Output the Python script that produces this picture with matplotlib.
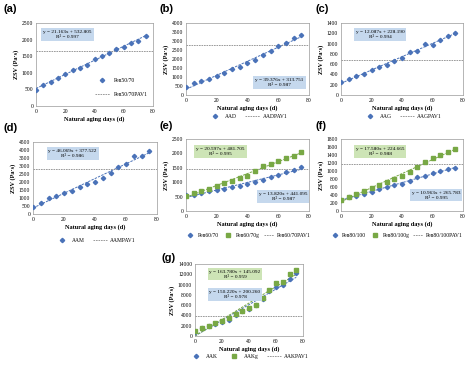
import numpy as np
import matplotlib.pyplot as plt

days = [0, 5, 10, 15, 20, 25, 30, 35, 40, 45, 50, 55, 60, 65, 70, 75]

pen5070 = [490, 640, 720, 850, 960, 1090, 1150, 1250, 1420, 1520, 1600, 1720, 1790, 1910, 1970, 2100]
pen5070_pav = 1660
aad = [430, 680, 770, 870, 1050, 1200, 1420, 1550, 1780, 1920, 2200, 2450, 2720, 2900, 3150, 3350]
aad_pav = 2780
aag = [250, 310, 360, 400, 480, 550, 580, 670, 720, 840, 860, 990, 980, 1060, 1140, 1210]
aag_pav = 690
aam = [450, 700, 980, 1100, 1330, 1450, 1700, 1850, 2000, 2230, 2550, 2950, 3130, 3600, 3650, 3950]
aam_pav = 2800
pen6070 = [540, 560, 620, 680, 720, 760, 820, 880, 950, 1020, 1080, 1180, 1260, 1340, 1420, 1520]
pen6070g = [520, 640, 690, 780, 880, 960, 1040, 1130, 1230, 1380, 1560, 1640, 1720, 1840, 1920, 2050]
pen6070_pav = 1470
pen80100 = [280, 340, 380, 430, 480, 540, 600, 650, 680, 740, 840, 880, 940, 990, 1040, 1080]
pen80100g = [280, 360, 420, 510, 570, 640, 720, 790, 880, 970, 1110, 1220, 1330, 1410, 1480, 1550]
pen80100_pav = 1170
aak = [700, 1600, 2000, 2300, 2800, 3200, 4000, 4800, 5300, 6000, 7200, 8800, 9600, 10000, 11000, 12200]
aakg = [1000, 1600, 2000, 2500, 3000, 3500, 4200, 4900, 5400, 6100, 7300, 8900, 10300, 10500, 12000, 12900]
aak_pav = 3800

BLUE = "#4a72b8"
GREEN = "#78a845"
BLUE_BOX = "#c5d8ed"
GREEN_BOX = "#cde4b6"
SERIF = "Liberation Serif"

W, H = 474, 380
fig = plt.figure(figsize=(W / 100, H / 100), dpi=100)


def make_ax(x0, y0, x1, y1, ymax, ystep, label, lx, ly):
    ax = fig.add_axes([x0 / W, 1 - y1 / H, (x1 - x0) / W, (y1 - y0) / H])
    ax.set_xlim(0, 80)
    ax.set_ylim(0, ymax)
    ax.set_xticks(range(0, 81, 20))
    ax.set_yticks(range(0, ymax + 1, ystep))
    ax.tick_params(labelsize=4, length=0, pad=2)
    for t in ax.get_xticklabels() + ax.get_yticklabels():
        t.set_family(SERIF)
    for s in ax.spines.values():
        s.set_color("#999999")
        s.set_linewidth(0.5)
    ax.set_xlabel("Natural aging days (d)", fontsize=4.5, family=SERIF,
                  fontweight="bold", labelpad=2)
    ax.set_ylabel("ZSV (Pa\u00b7s)", fontsize=4.5, family=SERIF,
                  fontweight="bold", labelpad=2)
    fig.text(lx / W, 1 - ly / H, label, fontsize=8, fontweight="bold",
             family="Liberation Sans", va="center", ha="left")
    return ax


def series(ax, y, color, name, marker="D"):
    x = np.array(days)
    ax.plot(x, y, linestyle="none", marker=marker, ms=2.2, color=color,
            label=name, zorder=3)
    k, b = np.polyfit(x, y, 1)
    ax.plot([0, 75], [b, b + 75 * k], color=color, lw=0.7,
            linestyle=(0, (2.5, 1.2)), zorder=2)


def pav(ax, level, name):
    ax.axhline(level, color="#8c8c8c", lw=0.6, linestyle=(0, (2, 1)), label=name)


def eq(ax, x, y, text, color):
    ax.text(x, y, text, transform=ax.transAxes, fontsize=3.8, family=SERIF,
            ha="center", va="center", linespacing=1.3,
            bbox=dict(boxstyle="square,pad=0.35", fc=color, ec="none"), zorder=4)


def bottom_legend(ax, yoff, spacing=1.5, hl=2.6, xc=0.5):
    leg = ax.legend(loc="upper center", bbox_to_anchor=(xc, yoff), ncol=3,
                    frameon=False, prop={"family": SERIF, "size": 4},
                    handlelength=hl, columnspacing=spacing, handletextpad=0.5,
                    borderaxespad=0, borderpad=0)
    return leg


# (a)
ax = make_ax(36, 23, 153, 106, 2500, 500, "(a)", 3, 9)
series(ax, pen5070, BLUE, "Pen50/70")
pav(ax, pen5070_pav, "Pen50/70PAV1")
eq(ax, 0.27, 0.86, "y = 21.163x + 532.805\nR\u00b2 = 0.997", BLUE_BOX)
ax.legend(loc="lower right", bbox_to_anchor=(1.0, 0.05), frameon=False,
          prop={"family": SERIF, "size": 4}, handlelength=2.6, labelspacing=1.6)

# (b)
ax = make_ax(186, 23, 309, 95, 4000, 500, "(b)", 160, 9)
series(ax, aad, BLUE, "AAD")
pav(ax, aad_pav, "AADPAV1")
eq(ax, 0.76, 0.17, "y = 39.376x + 313.751\nR\u00b2 = 0.987", BLUE_BOX)
bottom_legend(ax, -0.27)

# (c)
ax = make_ax(341, 23, 463, 95, 1400, 200, "(c)", 315, 9)
series(ax, aag, BLUE, "AAG")
pav(ax, aag_pav, "AAGPAV1")
eq(ax, 0.32, 0.84, "y = 12.087x + 228.190\nR\u00b2 = 0.994", BLUE_BOX)
bottom_legend(ax, -0.27)

# (d)
ax = make_ax(33, 142, 157, 214, 4500, 500, "(d)", 3, 128)
series(ax, aam, BLUE, "AAM")
pav(ax, aam_pav, "AAMPAV1")
eq(ax, 0.32, 0.84, "y = 46.069x + 377.522\nR\u00b2 = 0.986", BLUE_BOX)
bottom_legend(ax, -0.33)

# (e)
ax = make_ax(186, 139, 309, 211, 2500, 500, "(e)", 160, 126)
series(ax, pen6070, BLUE, "Pen60/70")
series(ax, pen6070g, GREEN, "Pen60/70g", marker="s")
pav(ax, pen6070_pav, "Pen60/70PAV1")
eq(ax, 0.28, 0.83, "y = 20.597x + 481.705\nR\u00b2 = 0.995", GREEN_BOX)
eq(ax, 0.79, 0.2, "y = 13.820x + 441.095\nR\u00b2 = 0.987", BLUE_BOX)
bottom_legend(ax, -0.31, spacing=0.7, hl=1.9)

# (f)
ax = make_ax(341, 139, 463, 211, 1800, 200, "(f)", 316, 126)
series(ax, pen80100, BLUE, "Pen80/100")
series(ax, pen80100g, GREEN, "Pen80/100g", marker="s")
pav(ax, pen80100_pav, "Pen80/100PAV1")
eq(ax, 0.32, 0.83, "y = 17.580x + 224.665\nR\u00b2 = 0.988", GREEN_BOX)
eq(ax, 0.78, 0.22, "y = 10.963x + 265.783\nR\u00b2 = 0.995", BLUE_BOX)
bottom_legend(ax, -0.31, spacing=0.6, hl=1.8, xc=0.45)

# (g)
ax = make_ax(195, 264, 303, 336, 14000, 2000, "(g)", 162, 258)
series(ax, aak, BLUE, "AAK")
series(ax, aakg, GREEN, "AAKg", marker="s")
pav(ax, aak_pav, "AAKPAV1")
eq(ax, 0.37, 0.86, "y = 163.780x + 145.092\nR\u00b2 = 0.959", GREEN_BOX)
eq(ax, 0.37, 0.58, "y = 150.220x + 200.260\nR\u00b2 = 0.978", BLUE_BOX)
bottom_legend(ax, -0.25)

fig.savefig("out.png", dpi=100)
